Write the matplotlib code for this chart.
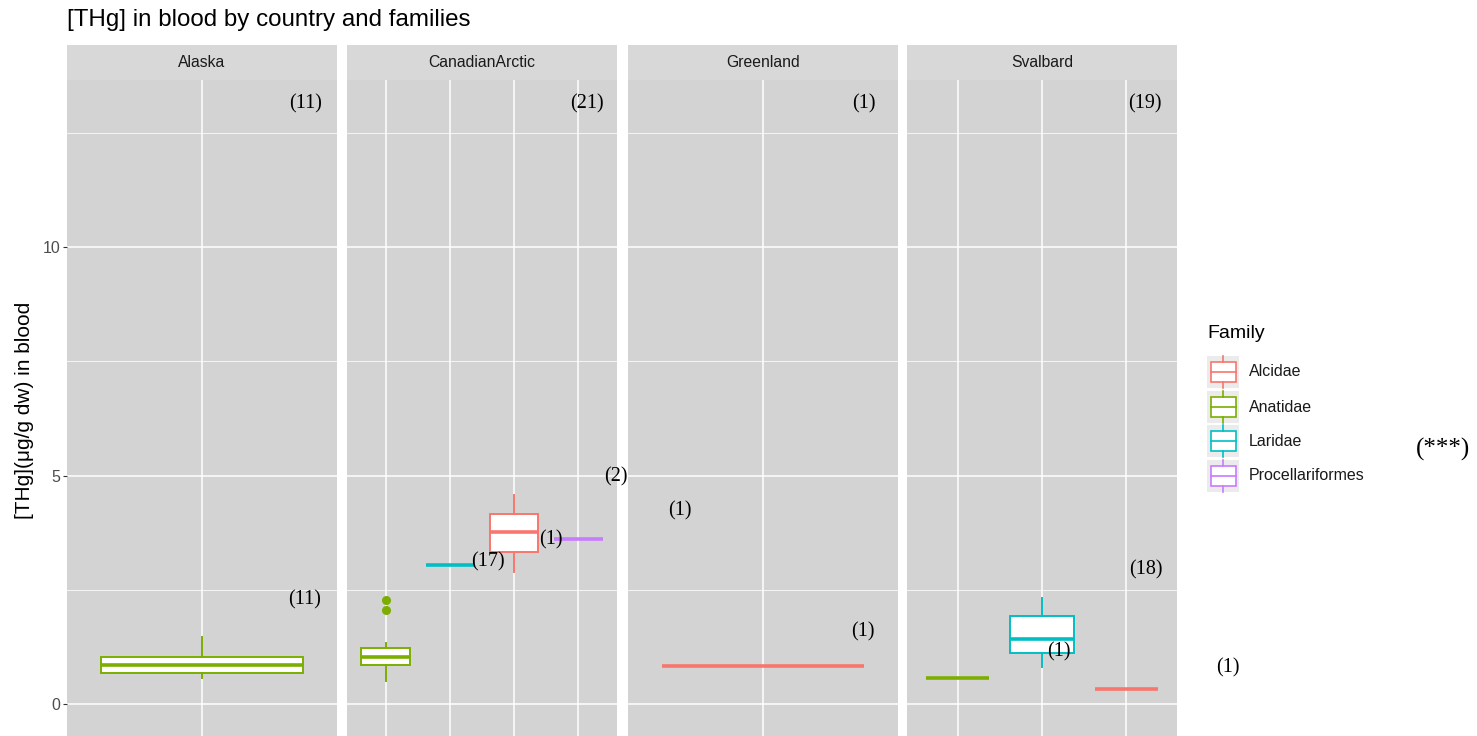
import numpy as np
import matplotlib
matplotlib.use("Agg")
import matplotlib.pyplot as plt
from matplotlib.patches import Rectangle

# ---- data ----
regions = ["Alaska", "CanadianArctic", "Greenland", "Svalbard"]

alaska_families = ["Anatidae"]
canadian_families = ["Anatidae", "Laridae", "Alcidae", "Procellariformes"]
greenland_families = ["Alcidae"]
svalbard_families = ["Anatidae", "Laridae", "Alcidae"]

# whislo, q1, median, q3, whishi
alaska_stats = [[0.57, 0.68, 0.85, 1.03, 1.47]]
canadian_stats = [[0.50, 0.85, 1.03, 1.23, 1.33],
                  [3.04, 3.04, 3.04, 3.04, 3.04],
                  [2.89, 3.33, 3.76, 4.16, 4.57],
                  [3.61, 3.61, 3.61, 3.61, 3.61]]
greenland_stats = [[0.83, 0.83, 0.83, 0.83, 0.83]]
svalbard_stats = [[0.57, 0.57, 0.57, 0.57, 0.57],
                  [0.81, 1.12, 1.42, 1.93, 2.32],
                  [0.33, 0.33, 0.33, 0.33, 0.33]]

alaska_fliers = [[]]
canadian_fliers = [[2.06, 2.28], [], [], []]
greenland_fliers = [[]]
svalbard_fliers = [[], [], []]

family_order = ["Alcidae", "Anatidae", "Laridae", "Procellariformes"]
family_colors = {"Alcidae": "#F8766D", "Anatidae": "#7CAE00",
                 "Laridae": "#00BFC4", "Procellariformes": "#C77CFF"}

# sample size labels, placed as in the reference (pixel positions)
count_labels = ["(11)", "(11)", "(21)", "(2)", "(1)", "(17)",
                "(1)", "(1)", "(1)", "(19)", "(18)", "(1)", "(1)"]
count_px = [(306, 102), (305, 598), (587, 102), (616, 475), (551, 538),
            (488, 560), (864, 102), (680, 509), (863, 630), (1145, 102),
            (1146, 568), (1059, 650), (1228, 666)]

panel_data = [(alaska_families, alaska_stats, alaska_fliers),
              (canadian_families, canadian_stats, canadian_fliers),
              (greenland_families, greenland_stats, greenland_fliers),
              (svalbard_families, svalbard_stats, svalbard_fliers)]

# ---- layout ----
W, H = 1477, 736
PANEL_BG = "#D3D3D3"
STRIP_BG = "#D8D8D8"
plt.rcParams["font.family"] = ["Liberation Sans", "DejaVu Sans"]

fig = plt.figure(figsize=(W / 100, H / 100), dpi=100)
fig.patch.set_facecolor("white")

def fx(x):
    return x / W

def fy(y):
    return 1 - y / H

panel_left = [67, 347, 628, 907]
panel_w = 270
panel_top, strip_top = 80, 45
y_zero, px_per_unit = 704, 45.7
ylim = (-(H - y_zero) / px_per_unit, (y_zero - panel_top) / px_per_unit)

for i, (region, (fams, stats, fliers)) in enumerate(zip(regions, panel_data)):
    ax = fig.add_axes([fx(panel_left[i]), 0, fx(panel_w), (H - panel_top) / H])
    ax.set_facecolor(PANEL_BG)
    n = len(fams)
    pos = np.arange(1, n + 1)
    ax.set_xlim(0.4, n + 0.6)
    ax.set_ylim(*ylim)
    ax.set_yticks([0, 5, 10])
    ax.set_yticks([2.5, 7.5, 12.5], minor=True)
    ax.set_xticks(pos)
    ax.grid(True, which="major", color="white", lw=1.1)
    ax.grid(True, which="minor", axis="y", color="white", lw=0.55)
    ax.set_axisbelow(True)
    for s in ax.spines.values():
        s.set_visible(False)
    ax.tick_params(axis="x", length=0, labelbottom=False)
    ax.tick_params(axis="y", which="minor", length=0)
    if i == 0:
        ax.tick_params(axis="y", which="major", length=3, width=0.8, color="#333333",
                       labelcolor="#4D4D4D", labelsize=11.5, pad=2)
    else:
        ax.tick_params(axis="y", which="major", length=0, labelleft=False)

    bstats = []
    for s, fl in zip(stats, fliers):
        bstats.append({"whislo": s[0], "q1": s[1], "med": s[2], "q3": s[3],
                       "whishi": s[4], "fliers": fl})
    width = 0.9 if n == 1 else 0.75
    art = ax.bxp(bstats, positions=pos, widths=width, patch_artist=True,
                 showcaps=False, manage_ticks=False)
    for j, fam in enumerate(fams):
        c = family_colors[fam]
        art["boxes"][j].set(facecolor="white", edgecolor=c, lw=1.4)
        art["medians"][j].set(color=c, lw=2.6, solid_capstyle="butt")
        for w in art["whiskers"][2 * j:2 * j + 2]:
            w.set(color=c, lw=1.4)
        art["fliers"][j].set(marker="o", markerfacecolor=c, markeredgecolor=c,
                             markersize=5.5)

    # facet strip
    sax = fig.add_axes([fx(panel_left[i]), fy(panel_top), fx(panel_w),
                        (panel_top - strip_top) / H])
    sax.set_facecolor(STRIP_BG)
    sax.set_xticks([])
    sax.set_yticks([])
    for s in sax.spines.values():
        s.set_visible(False)
    sax.text(0.5, 0.5, region, ha="center", va="center", fontsize=11.3,
             color="#1A1A1A", transform=sax.transAxes)

# titles
fig.text(fx(67), fy(20), "[THg] in blood by country and families",
         fontsize=17.4, color="black", ha="left", va="center")
fig.text(fx(25), fy(410), "[THg](μg/g dw) in blood", rotation=90,
         fontsize=15, ha="center", va="center", color="black")

# sample size annotations
for lab, (x, y) in zip(count_labels, count_px):
    fig.text(fx(x), fy(y + 2), lab, fontsize=14.5, family="Liberation Serif",
             ha="center", va="center", color="black")
fig.text(fx(1443), fy(449), "(***)", fontsize=18, family="Liberation Serif",
         ha="center", va="center", color="black")

# legend, ggplot style
lax = fig.add_axes([0, 0, 1, 1])
lax.set_xlim(0, W)
lax.set_ylim(H, 0)
lax.axis("off")
lax.text(1207, 334, "Family", fontsize=14, ha="left", va="center", color="black")
key_y = [372, 407, 441, 476]
for fam, ky in zip(family_order, key_y):
    c = family_colors[fam]
    lax.add_patch(Rectangle((1207, ky - 16), 32, 32, facecolor="#EBEBEB",
                            edgecolor="none"))
    lax.plot([1223, 1223], [ky - 16, ky - 10], color=c, lw=1.2)
    lax.plot([1223, 1223], [ky + 10, ky + 16], color=c, lw=1.2)
    lax.add_patch(Rectangle((1210.5, ky - 10), 25, 20, facecolor="white",
                            edgecolor=c, lw=1.2))
    lax.plot([1210.5, 1235.5], [ky, ky], color=c, lw=1.2)
    lax.text(1249, ky, fam, fontsize=11.5, ha="left", va="center", color="#1A1A1A")

fig.savefig("out.png", dpi=100, facecolor="white")
